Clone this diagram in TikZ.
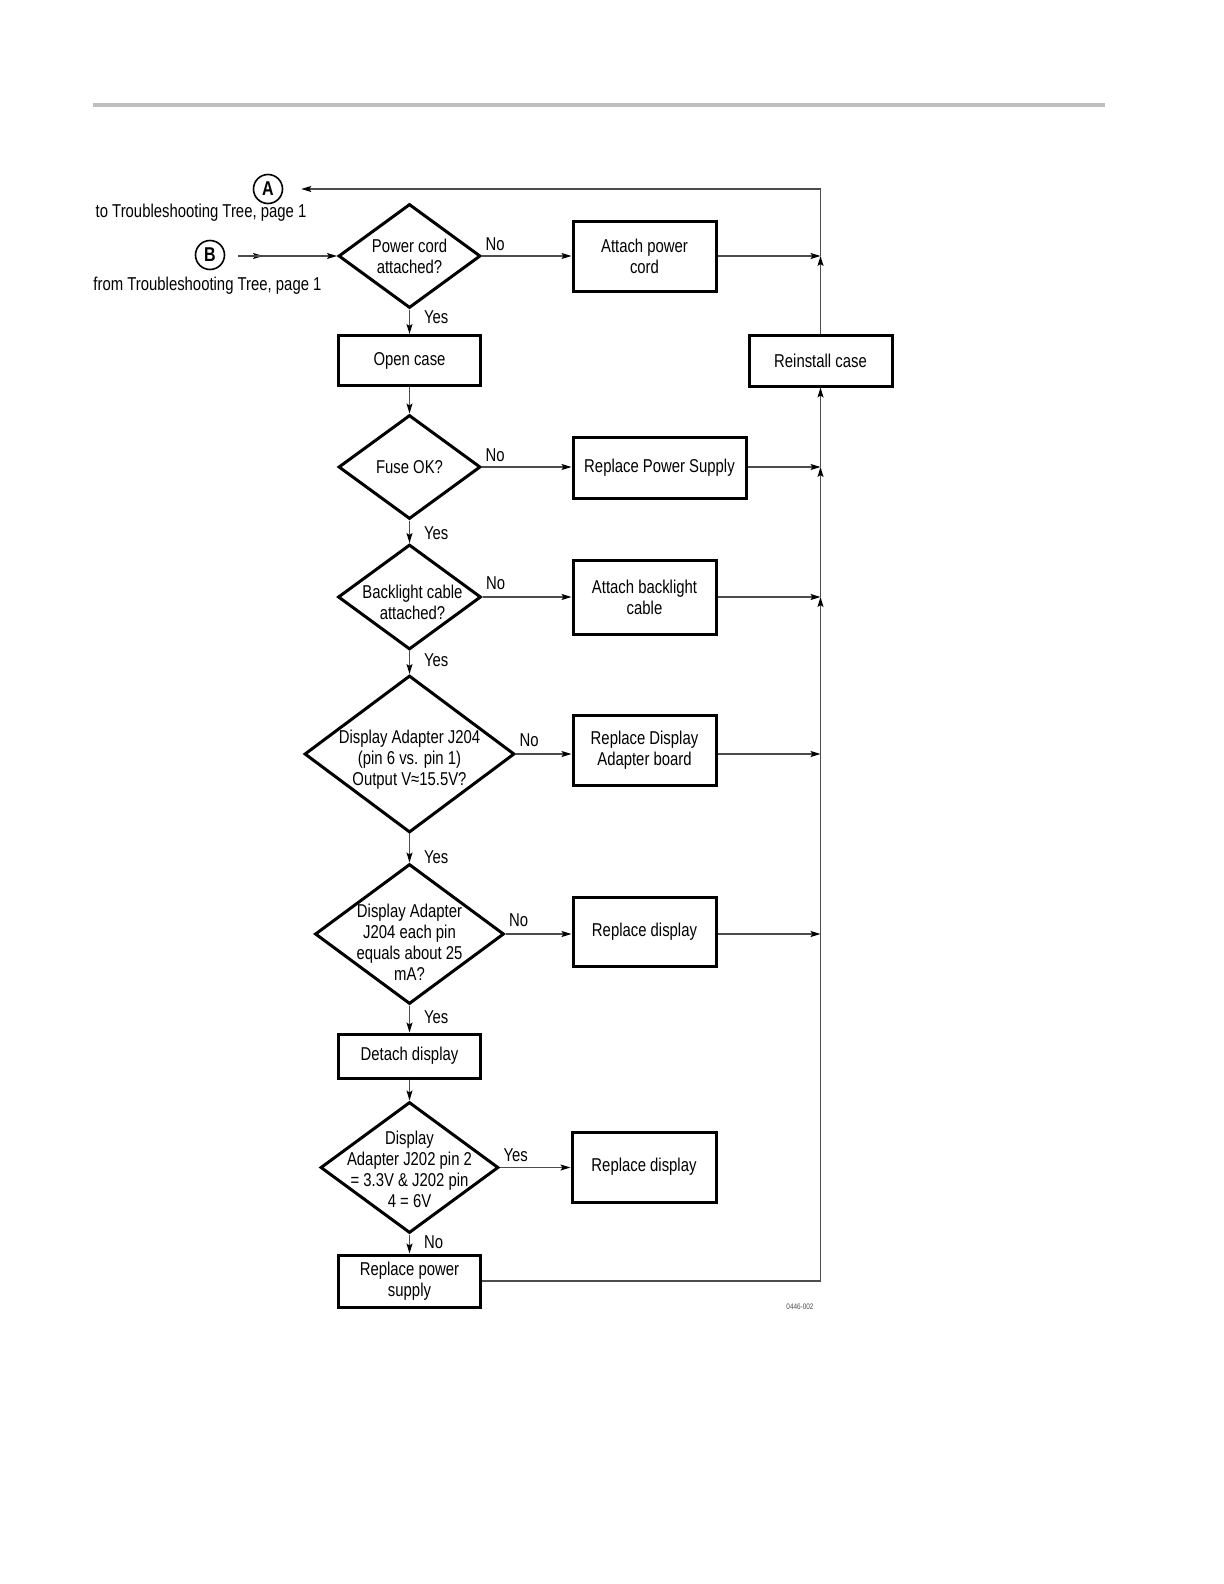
\documentclass[tikz,border=0pt]{standalone}
\usepackage{fontspec}
\setmainfont{Liberation Sans}[FakeStretch=0.8]
\usetikzlibrary{shapes.geometric,arrows.meta}

\begin{document}
\begin{tikzpicture}[
  x=0.5pt, y=-0.5pt,
  font=\fontsize{9.3}{10.5}\selectfont,
  line width=0.6pt,
  box/.style 2 args={draw, line width=1.5pt, align=center, inner sep=0pt,
    minimum width=#1pt, minimum height=#2pt},
  decision/.style 2 args={diamond, draw, line width=1.5pt, inner sep=0pt,
    minimum width=#1pt, minimum height=#2pt},
  qtext/.style={align=center, inner sep=0pt},
  link/.style={draw=black!70, -{Stealth[length=5pt,width=3pt,inset=1pt,black]}},
  lbl/.style={inner sep=1.5pt},
  ref/.style={circle, draw, line width=0.8pt, minimum size=14.5pt, inner sep=0pt,
    font=\fontsize{10}{12}\selectfont\bfseries},
]
\useasboundingbox (0,0) rectangle (1224,1584);
\draw[gray!50, line width=2pt] (93,105) -- (1105,105);

% entree / sortie
\node[ref] (A) at (268,189) {A};
\node (toA) at (201,213) {to Troubleshooting Tree, page 1};
\node[ref] (B) at (210,255) {B};
\node (fromB) at (207.5,286) {from Troubleshooting Tree, page 1};

% colonne de gauche
\node[decision={71}{52}, label={[qtext]center:{Power cord\\attached?}}] (pc) at (409.5,256) {};
\node[box={71}{25}] (open) at (409.5,360.5) {Open case};
\node[decision={71}{52}, label={[qtext]center:{Fuse OK?}}] (fuse) at (409.5,467) {};
\node[decision={71.5}{52.5}, label={[qtext, xshift=1.5pt, yshift=-2.5pt]center:{Backlight cable\\attached?}}] (blc) at (409.5,597) {};
\node[decision={105}{78.5}, label={[qtext, yshift=-3pt]center:{Display Adapter J204\\(pin 6 vs. pin 1)\\Output V≈15.5V?}}] (j204) at (409.5,754) {};
\node[decision={94.5}{70}, label={[qtext, yshift=-4pt]center:{Display Adapter\\J204 each pin\\equals about 25\\mA?}}] (pin) at (409.5,934) {};
\node[box={71}{22}] (detach) at (409.5,1056) {Detach display};
\node[decision={89}{65.5}, label={[qtext, yshift=-1pt]center:{Display\\Adapter J202 pin 2\\= 3.3V \& J202 pin\\4 = 6V}}] (j202) at (409.5,1167.5) {};
\node[box={71}{26}] (rpower) at (409.5,1281) {Replace power\\supply};

% colonne de droite
\node[box={71.5}{35}] (attach) at (644.5,256) {Attach power\\cord};
\node[box={71.5}{25.5}] (reinstall) at (820.5,360.5) {Reinstall case};
\node[box={86.5}{30.5}] (rpsu) at (659.5,467.5) {Replace Power Supply};
\node[box={71.5}{37}] (backl) at (644.5,597) {Attach backlight\\cable};
\node[box={71.5}{35}] (radap) at (644.5,750) {Replace Display\\Adapter board};
\node[box={71.5}{34.5}] (rdisp) at (644.5,931.5) {Replace display};
\node[box={72}{35}] (rdisp2) at (644,1167) {Replace display};

\node[font=\fontsize{4}{5}\selectfont, text=black!70] (figid) at (800,1307) {0446-002};

\coordinate (j1) at (attach.east -| reinstall.center);
\coordinate (j2) at (fuse.east -| reinstall.center);
\coordinate (j3) at (backl.east -| reinstall.center);
\coordinate (j4) at (j204.east -| reinstall.center);
\coordinate (j5) at (pin.east -| reinstall.center);
\coordinate (j6) at (rpower.east -| reinstall.center);
\coordinate (bin) at (238,256);
\coordinate (bmid) at (263,256);

% liaisons
\draw[link] (bin) -- (bmid);
\draw[link] (bin) -- (pc.west);
\draw[link] (pc.east) -- node[lbl, pos=0, anchor=south west, yshift=1pt] {No} (pc.east -| attach.west);
\draw[link] (pc.south) -- node[lbl, pos=.3, anchor=west, xshift=5.5pt] {Yes} (open.north);
\draw[link] (open.south) -- (fuse.north);
\draw[link] (fuse.east) -- node[lbl, pos=0, anchor=south west, yshift=1pt] {No} (fuse.east -| rpsu.west);
\draw[link] (fuse.south) -- node[lbl, pos=.55, anchor=west, xshift=5.5pt] {Yes} (blc.north);
\draw[link] (blc.east) -- node[lbl, pos=0, anchor=south west, yshift=2pt] {No} (blc.east -| backl.west);
\draw[link] (blc.south) -- node[lbl, pos=.38, anchor=west, xshift=5.5pt] {Yes} (j204.north);
\draw[link] (j204.east) -- node[lbl, pos=0, anchor=south west, yshift=2pt] {No} (j204.east -| radap.west);
\draw[link] (j204.south) -- node[lbl, pos=.83, anchor=west, xshift=5.5pt] {Yes} (pin.north);
\draw[link] (pin.east) -- node[lbl, pos=0, anchor=south west, yshift=2pt] {No} (pin.east -| rdisp.west);
\draw[link] (pin.south) -- node[lbl, pos=.43, anchor=west, xshift=5.5pt] {Yes} (detach.north);
\draw[link] (detach.south) -- (j202.north);
\draw[link] (j202.east) -- node[lbl, pos=0, anchor=south west, yshift=1pt] {Yes} (j202.east -| rdisp2.west);
\draw[link] (j202.south) -- node[lbl, pos=.4, anchor=west, xshift=5.5pt] {No} (rpower.north);

% retour vers A
\draw[link] (attach.east) -- (j1);
\draw[link] (rpsu.east |- j2) -- (j2);
\draw[link] (backl.east) -- (j3);
\draw[link] (radap.east |- j4) -- (j4);
\draw[link] (rdisp.east |- j5) -- (j5);
\draw[link] (rpower.east |- j6) -- (j6) -- (j3);
\draw[link] (j3) -- (j2);
\draw[link] (j2) -- (reinstall.south);
\draw[link] (reinstall.north) -- (j1);
\draw[link, shorten >=9pt] (j1) |- (A);
\end{tikzpicture}
\end{document}
